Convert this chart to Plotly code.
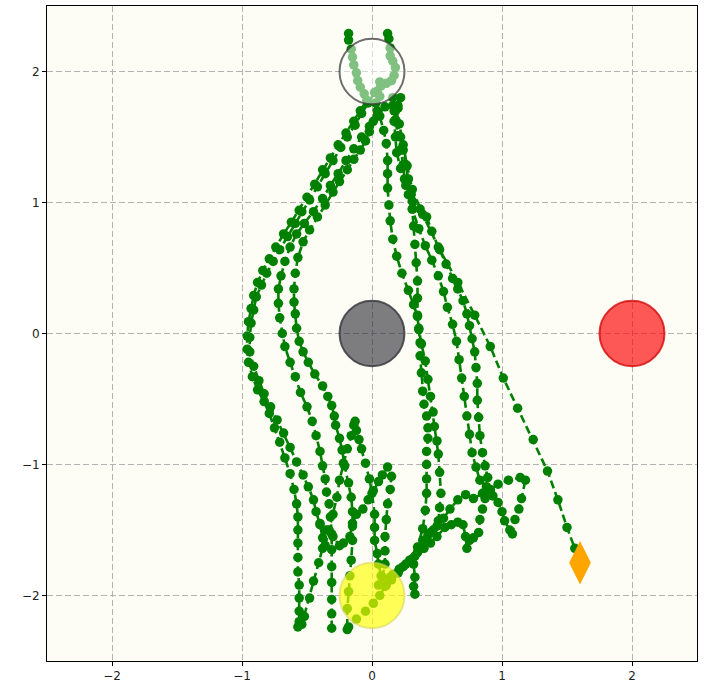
import plotly.graph_objects as go

# ---- data ----
traj_a = [(-0.18, 2.29), (-0.18, 2.24), (-0.16, 2.17), (-0.15, 2.11), (-0.14, 2.05), (-0.12, 1.99),
          (-0.11, 1.93), (-0.09, 1.88), (-0.06, 1.83), (-0.04, 1.78), (-0.09, 1.70), (-0.14, 1.62),
          (-0.20, 1.53), (-0.26, 1.44), (-0.32, 1.34),
          (-0.38, 1.25), (-0.44, 1.14), (-0.50, 1.04), (-0.56, 0.94), (-0.62, 0.85), (-0.68, 0.76),
          (-0.74, 0.66), (-0.79, 0.57), (-0.84, 0.48), (-0.88, 0.39), (-0.91, 0.29), (-0.93, 0.19),
          (-0.95, 0.09), (-0.96, -0.02), (-0.96, -0.12), (-0.95, -0.22), (-0.92, -0.33), (-0.88, -0.43),
          (-0.83, -0.52), (-0.79, -0.61), (-0.75, -0.72), (-0.71, -0.83), (-0.67, -0.95), (-0.63, -1.07),
          (-0.60, -1.19), (-0.58, -1.30), (-0.57, -1.40), (-0.57, -1.50), (-0.57, -1.60), (-0.57, -1.71),
          (-0.57, -1.82), (-0.56, -1.92), (-0.56, -2.02), (-0.56, -2.12), (-0.56, -2.20), (-0.57, -2.24)]

traj_b = [(0.06, 1.92), (0.02, 1.84), (-0.03, 1.76), (-0.08, 1.68), (-0.13, 1.59), (-0.19, 1.50),
          (-0.24, 1.42), (-0.30, 1.32), (-0.36, 1.22), (-0.42, 1.12), (-0.48, 1.02), (-0.54, 0.93),
          (-0.59, 0.84), (-0.65, 0.74), (-0.71, 0.64), (-0.76, 0.55), (-0.81, 0.46), (-0.85, 0.37),
          (-0.89, 0.28), (-0.91, 0.18), (-0.93, 0.08), (-0.94, -0.03), (-0.94, -0.14), (-0.91, -0.25),
          (-0.87, -0.36), (-0.83, -0.46), (-0.78, -0.56), (-0.73, -0.66), (-0.68, -0.76), (-0.63, -0.87),
          (-0.58, -0.98), (-0.53, -1.08), (-0.49, -1.17), (-0.45, -1.27), (-0.43, -1.36), (-0.40, -1.46),
          (-0.38, -1.56), (-0.38, -1.64), (-0.41, -1.75), (-0.45, -1.89), (-0.48, -2.02), (-0.52, -2.16),
          (-0.54, -2.22)]

traj_c = [(0.10, 1.73), (0.04, 1.66), (-0.02, 1.58), (-0.08, 1.50), (-0.14, 1.41), (-0.20, 1.32),
          (-0.26, 1.22), (-0.32, 1.13), (-0.38, 1.03), (-0.45, 0.93), (-0.52, 0.84), (-0.58, 0.76),
          (-0.63, 0.66), (-0.67, 0.55), (-0.70, 0.44), (-0.72, 0.34), (-0.72, 0.23), (-0.71, 0.12),
          (-0.69, 0.00), (-0.67, -0.10), (-0.63, -0.22), (-0.59, -0.33), (-0.55, -0.45), (-0.50, -0.56),
          (-0.46, -0.67), (-0.43, -0.78), (-0.40, -0.90), (-0.38, -1.01), (-0.36, -1.11), (-0.35, -1.21),
          (-0.33, -1.30), (-0.32, -1.40), (-0.31, -1.53), (-0.31, -1.65), (-0.31, -1.78), (-0.31, -1.90),
          (-0.31, -2.03), (-0.31, -2.14), (-0.31, -2.25)]

traj_d = [(0.04, 1.70), (0.01, 1.62), (-0.02, 1.54), (-0.05, 1.47), (-0.09, 1.40), (-0.14, 1.33),
          (-0.19, 1.25), (-0.25, 1.16), (-0.30, 1.08), (-0.36, 0.98), (-0.42, 0.89), (-0.48, 0.79),
          (-0.53, 0.70), (-0.57, 0.58), (-0.59, 0.46), (-0.60, 0.34), (-0.60, 0.24), (-0.59, 0.15),
          (-0.58, 0.04), (-0.56, -0.06), (-0.53, -0.14), (-0.49, -0.22), (-0.44, -0.31), (-0.38, -0.40),
          (-0.34, -0.48), (-0.31, -0.55), (-0.29, -0.63), (-0.28, -0.70), (-0.25, -0.80), (-0.23, -0.89),
          (-0.21, -1.01), (-0.18, -1.14), (-0.16, -1.25), (-0.15, -1.36), (-0.15, -1.47), (-0.15, -1.58),
          (-0.16, -1.73), (-0.17, -1.85), (-0.18, -1.97), (-0.19, -2.10), (-0.19, -2.26)]

traj_e = [(-0.40, -1.45), (-0.35, -1.50), (-0.30, -1.55), (-0.25, -1.62), (-0.22, -1.60), (-0.17, -1.55),
          (-0.15, -1.45), (-0.12, -1.38), (-0.07, -1.34), (-0.03, -1.27), (0.01, -1.20), (0.05, -1.13),
          (0.08, -1.08), (0.12, -1.02), (0.15, -1.09), (0.14, -1.19), (0.12, -1.30), (0.11, -1.42),
          (0.10, -1.55), (0.10, -1.66), (0.10, -1.76), (0.08, -1.86), (0.05, -1.92)]

traj_k = [(-0.36, -1.62), (-0.33, -1.50), (-0.30, -1.38), (-0.27, -1.25), (-0.25, -1.12), (-0.22, -0.99),
          (-0.19, -0.88), (-0.16, -0.78), (-0.14, -0.70), (-0.13, -0.67), (-0.12, -0.74), (-0.10, -0.81),
          (-0.08, -0.88), (-0.05, -0.99), (-0.02, -1.11), (0.00, -1.22), (0.02, -1.38), (0.02, -1.48),
          (0.02, -1.58), (0.04, -1.68), (0.05, -1.76), (0.07, -1.85)]

traj_f = [(0.12, 2.29), (0.13, 2.25), (0.14, 2.18), (0.14, 2.12), (0.16, 2.08), (0.18, 2.03),
          (0.17, 1.97), (0.15, 1.93), (0.11, 1.91), (0.07, 1.89), (0.04, 1.85), (0.06, 1.81),
          (0.03, 1.76), (0.06, 1.66), (0.09, 1.55), (0.11, 1.45), (0.12, 1.32),
          (0.12, 1.22), (0.12, 1.11), (0.13, 0.98), (0.14, 0.86), (0.16, 0.72), (0.19, 0.59),
          (0.23, 0.46), (0.28, 0.33), (0.32, 0.22), (0.35, 0.13), (0.36, 0.03), (0.37, -0.07),
          (0.37, -0.17), (0.38, -0.30), (0.39, -0.44), (0.40, -0.54), (0.42, -0.63), (0.43, -0.72),
          (0.43, -0.80), (0.42, -0.90), (0.42, -1.00), (0.42, -1.11), (0.42, -1.22), (0.41, -1.35),
          (0.39, -1.49), (0.35, -1.63), (0.29, -1.74), (0.21, -1.80), (0.14, -1.86), (0.10, -1.93),
          (0.06, -2.00), (0.01, -2.06), (-0.05, -2.12), (-0.12, -2.18), (-0.18, -2.24)]

traj_g = [(0.22, 1.80), (0.20, 1.72), (0.19, 1.61), (0.22, 1.50), (0.24, 1.40), (0.26, 1.29),
          (0.28, 1.18), (0.30, 1.06), (0.31, 0.95), (0.32, 0.82), (0.33, 0.68), (0.34, 0.54),
          (0.35, 0.40), (0.35, 0.27), (0.35, 0.14), (0.36, 0.04), (0.38, -0.08), (0.41, -0.21),
          (0.43, -0.35), (0.45, -0.48), (0.47, -0.60), (0.48, -0.71), (0.50, -0.82), (0.51, -0.92),
          (0.52, -1.06), (0.53, -1.22), (0.52, -1.33), (0.51, -1.43), (0.47, -1.50), (0.43, -1.54),
          (0.39, -1.58), (0.35, -1.67), (0.32, -1.76), (0.33, -1.86), (0.32, -1.93), (0.33, -1.99)]

traj_h = [(0.16, 1.80), (0.17, 1.70), (0.18, 1.63), (0.20, 1.51), (0.22, 1.40), (0.24, 1.29),
          (0.25, 1.18), (0.28, 1.06), (0.31, 0.95), (0.36, 0.80), (0.41, 0.67), (0.46, 0.56),
          (0.51, 0.44), (0.55, 0.32), (0.58, 0.20), (0.62, 0.07), (0.65, -0.06), (0.67, -0.20),
          (0.69, -0.34), (0.71, -0.48), (0.73, -0.63), (0.75, -0.77), (0.77, -0.91), (0.80, -1.02),
          (0.83, -1.12), (0.88, -1.17), (0.93, -1.24), (0.97, -1.29), (1.00, -1.36), (1.02, -1.43),
          (1.06, -1.50), (1.08, -1.53), (1.10, -1.42), (1.13, -1.34), (1.15, -1.26), (1.18, -1.12),
          (1.14, -1.10), (1.05, -1.12), (0.97, -1.15), (0.91, -1.19), (0.85, -1.22), (0.78, -1.26),
          (0.72, -1.23), (0.66, -1.27), (0.60, -1.34), (0.55, -1.41), (0.50, -1.47), (0.45, -1.52),
          (0.42, -1.58), (0.38, -1.64), (0.33, -1.70), (0.29, -1.73), (0.24, -1.78), (0.20, -1.83),
          (0.15, -1.88), (0.11, -1.92)]

traj_i = [(0.16, 1.74), (0.17, 1.62), (0.18, 1.50), (0.19, 1.38), (0.22, 1.26), (0.26, 1.13),
          (0.31, 1.01), (0.37, 0.95), (0.42, 0.89), (0.46, 0.78), (0.51, 0.66), (0.57, 0.53),
          (0.62, 0.42), (0.66, 0.34), (0.70, 0.25), (0.73, 0.15), (0.75, 0.06), (0.77, -0.04),
          (0.79, -0.14), (0.80, -0.26), (0.81, -0.38), (0.81, -0.51), (0.82, -0.64), (0.83, -0.78),
          (0.85, -0.91), (0.87, -1.01), (0.89, -1.10), (0.91, -1.20), (0.87, -1.26), (0.85, -1.34),
          (0.83, -1.42), (0.82, -1.52), (0.78, -1.56), (0.75, -1.58), (0.73, -1.64), (0.72, -1.55),
          (0.70, -1.46), (0.66, -1.44), (0.61, -1.46), (0.56, -1.48), (0.50, -1.55), (0.45, -1.60),
          (0.40, -1.64), (0.35, -1.67), (0.31, -1.72), (0.26, -1.76), (0.21, -1.80), (0.16, -1.84)]

traj_j = [(0.20, 1.74), (0.21, 1.60), (0.24, 1.44), (0.27, 1.28), (0.31, 1.10), (0.39, 0.91),
          (0.52, 0.64), (0.66, 0.39), (0.79, 0.14), (0.91, -0.10), (1.01, -0.34), (1.12, -0.57),
          (1.24, -0.81), (1.35, -1.05), (1.43, -1.27), (1.50, -1.48), (1.56, -1.64)]

trajectories = [traj_a, traj_b, traj_c, traj_d, traj_e, traj_k, traj_f, traj_g, traj_h, traj_i, traj_j]

diamond_point = (1.6, -1.75)

# circles: (center x, center y, radius)
goal_circle = (0.0, 2.0, 0.25)
obstacle_circle = (0.0, 0.0, 0.25)
red_circle = (2.0, 0.0, 0.25)
start_circle = (0.0, -2.0, 0.25)

tick_vals = [-2, -1, 0, 1, 2]
axis_range = [-2.5, 2.5]

# ---- figure ----
fig = go.Figure()

for traj in trajectories:
    fig.add_trace(go.Scatter(
        x=[p[0] for p in traj], y=[p[1] for p in traj],
        mode="lines+markers",
        line=dict(color="#008000", width=2.6, dash="8px,4px"),
        marker=dict(color="#008000", size=9.5),
        showlegend=False, hoverinfo="skip",
    ))

fig.add_trace(go.Scatter(
    x=[diamond_point[0]], y=[diamond_point[1]], mode="markers",
    marker=dict(symbol="diamond-tall", color="#ffa500", size=31, line=dict(width=0)),
    showlegend=False, hoverinfo="skip",
))


def circle(c, fill, edge, width):
    cx, cy, r = c
    fig.add_shape(type="circle", xref="x", yref="y",
                  x0=cx - r, x1=cx + r, y0=cy - r, y1=cy + r,
                  fillcolor=fill, line=dict(color=edge, width=width), layer="above")


circle(goal_circle, "rgba(255,255,255,0.5)", "rgba(60,60,60,0.75)", 2)
circle(obstacle_circle, "rgba(40,40,48,0.6)", "rgba(40,40,48,0.75)", 2)
circle(red_circle, "rgba(255,0,0,0.65)", "rgba(205,0,0,0.75)", 2)
circle(start_circle, "rgba(255,255,0,0.65)", "rgba(215,215,90,0.6)", 2)

axis_common = dict(
    range=axis_range, tickvals=tick_vals, showgrid=True,
    gridcolor="#b3b3b3", gridwidth=1.1, griddash="6px,3px",
    zeroline=False, showline=True, linecolor="black", linewidth=1, mirror=True,
    ticks="outside", ticklen=4, tickcolor="black",
    tickfont=dict(family="DejaVu Sans", size=12, color="#222"),
)

fig.update_layout(
    width=708, height=688,
    margin=dict(l=47, r=11, t=5, b=23),
    paper_bgcolor="white", plot_bgcolor="#fdfdf6",
    xaxis=axis_common, yaxis=axis_common,
)

fig.write_html("out.html", config={"displayModeBar": False},
               post_script="document.body.style.margin='0px';")
